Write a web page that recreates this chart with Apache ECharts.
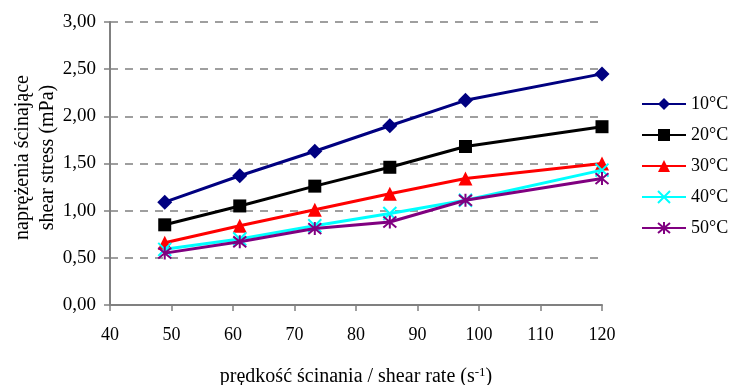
<!DOCTYPE html>
<html>
<head>
<meta charset="utf-8">
<script src="https://cdn.jsdelivr.net/npm/echarts@6/dist/echarts.min.js"></script>
<style>html,body{margin:0;padding:0;background:#fff}#c{width:729px;height:385px}</style>
</head>
<body>
<div id="c"></div>
<script>
const shearRate = [48.9, 61.1, 73.3, 85.5, 97.8, 120];
const seriesNames = ['10°C', '20°C', '30°C', '40°C', '50°C'];
const s10 = [1.09, 1.37, 1.63, 1.90, 2.17, 2.45];
const s20 = [0.85, 1.05, 1.26, 1.46, 1.68, 1.89];
const s30 = [0.66, 0.84, 1.01, 1.18, 1.34, 1.50];
const s40 = [0.59, 0.70, 0.84, 0.97, 1.11, 1.43];
const s50 = [0.55, 0.67, 0.81, 0.88, 1.11, 1.34];
const allValues = [s10, s20, s30, s40, s50];

const colors = ['#000080', '#000000', '#FF0000', '#00FFFF', '#800080'];
const symbols = ['diamond', 'rect', 'triangle',
  'path://M0,0L10,10M10,0L0,10',
  'path://M0,0L10,10M10,0L0,10M5,-1L5,11'];
const sizes = [15, 13, 14, 13, 13];
const FONT = '"Liberation Serif", "Times New Roman", serif';

const series = allValues.map((vals, i) => {
  const stroke = i >= 3;
  return {
    name: seriesNames[i],
    type: 'line',
    data: shearRate.map((x, j) => [x, vals[j]]),
    symbol: symbols[i],
    symbolSize: sizes[i],
    showAllSymbol: true,
    lineStyle: { color: colors[i], width: 3 },
    itemStyle: stroke
      ? { color: 'rgba(0,0,0,0)', borderColor: colors[i], borderWidth: 2 }
      : { color: colors[i], borderWidth: 0 },
    emphasis: { disabled: true },
    z: 2 + i
  };
});

const chart = echarts.init(document.getElementById('c'), null, { renderer: 'canvas' });
chart.setOption({
  animation: false,
  backgroundColor: '#fff',
  textStyle: { fontFamily: FONT },
  grid: { left: 110, right: 127, top: 22, bottom: 80, containLabel: false, outerBoundsMode: 'none' },
  legend: {
    orient: 'vertical',
    left: 641,
    top: 95,
    padding: 0,
    itemWidth: 44,
    itemHeight: 15,
    itemGap: 13,
    data: seriesNames,
    textStyle: { fontFamily: FONT, fontSize: 18, color: '#000' }
  },
  xAxis: {
    type: 'value',
    min: 40, max: 120, interval: 10,
    axisLine: { show: true, lineStyle: { color: '#808080', width: 2 } },
    axisTick: { show: true, inside: false, length: 6, lineStyle: { color: '#808080', width: 1.5 } },
    axisLabel: { fontFamily: FONT, fontSize: 18, color: '#000', margin: 21 },
    splitLine: { show: false },
    name: 'prędkość ścinania / shear rate (s{sup|-1})',
    nameLocation: 'middle',
    nameGap: 61,
    nameMoveOverlap: false,
    nameTextStyle: {
      fontFamily: FONT, fontSize: 20, color: '#000',
      rich: { sup: { fontFamily: FONT, fontSize: 13, color: '#000', verticalAlign: 'top', padding: [0, 0, 8, 0] } }
    }
  },
  yAxis: {
    type: 'value',
    min: 0, max: 3, interval: 0.5,
    axisLine: { show: true, lineStyle: { color: '#808080', width: 2 } },
    axisTick: { show: true, inside: false, length: 6, lineStyle: { color: '#808080', width: 1.5 } },
    axisLabel: {
      fontFamily: FONT, fontSize: 19, color: '#000', margin: 14,
      formatter: v => v.toFixed(2).replace('.', ',')
    },
    splitLine: { show: true, lineStyle: { color: '#808080', width: 1.5, type: [8, 7] } },
    name: 'naprężenia ścinające\nshear stress (mPa)',
    nameLocation: 'middle',
    nameGap: 50,
    nameMoveOverlap: false,
    nameTextStyle: { fontFamily: FONT, fontSize: 20, color: '#000', lineHeight: 25, padding: [0, 0, 0, 12] }
  },
  series: series
});
</script>
</body>
</html>
